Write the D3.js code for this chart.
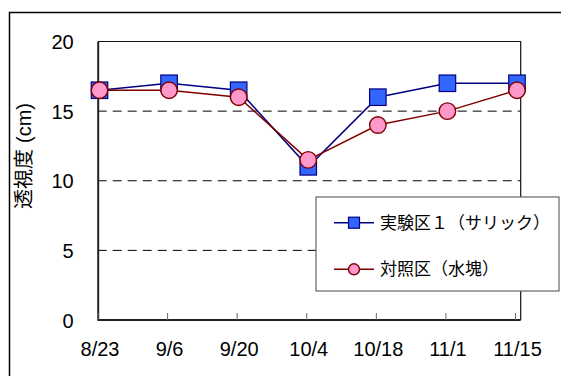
<!DOCTYPE html>
<html>
<head>
<meta charset="utf-8">
<script src="https://cdn.jsdelivr.net/npm/d3@7"></script>
<style>
  html, body { margin: 0; padding: 0; background: #fff; }
  svg { display: block; }
  text { font-family: "Liberation Sans", Arial, "Noto Sans CJK JP", sans-serif; fill: #000; }
</style>
</head>
<body>
<svg id="chart" width="561" height="376"></svg>
<script>
// Survey dates
const dates = ["8/23", "9/6", "9/20", "10/4", "10/18", "11/1", "11/15"];
// Transparency (cm) per plot
const salixValues = [16.5, 17, 16.5, 11, 16, 17, 17];
const controlValues = [16.5, 16.5, 16, 11.5, 14, 15, 16.5];
// Y-axis ticks
const yTicks = [0, 5, 10, 15, 20];
const seriesNames = ["実験区１（サリック）", "対照区（水塊）"];

const svg = d3.select("#chart");

// Outer chart frame
svg.append("rect")
  .attr("x", 9.5).attr("y", 12.5)
  .attr("width", 570).attr("height", 380)
  .attr("fill", "none").attr("stroke", "#000").attr("stroke-width", 1.5);

const plot = { left: 97.7, right: 520.7, top: 41.5, bottom: 320 };

const x = d3.scalePoint().domain(dates).range([99.5, 517]);
const y = d3.scaleLinear().domain([0, 20]).range([plot.bottom, plot.top]);

// Dashed gridlines
svg.append("g")
  .selectAll("line")
  .data(yTicks.filter(t => t > 0 && t < 20))
  .join("line")
  .attr("x1", plot.left).attr("x2", plot.right)
  .attr("y1", d => y(d)).attr("y2", d => y(d))
  .attr("stroke", "#000").attr("stroke-width", 1)
  .attr("stroke-dasharray", "9,6");

// Plot border: thin top and right
svg.append("path")
  .attr("d", `M${plot.left},${plot.top}H${plot.right}V${plot.bottom}`)
  .attr("fill", "none").attr("stroke", "#111").attr("stroke-width", 1.2);

// Y axis
const yAxis = d3.axisLeft(y).tickValues(yTicks).tickSize(0).tickPadding(24);
const gy = svg.append("g").attr("transform", `translate(${plot.left},0)`).call(yAxis);
gy.select(".domain").attr("stroke", "#222").attr("stroke-width", 2);
gy.selectAll("text").attr("font-size", 20).attr("dy", "0.35em")
  .style("font-family", '"Liberation Sans", Arial, sans-serif');

// X axis with inward ticks
const xAxis = d3.axisBottom(x).tickSize(0).tickPadding(22);
const gx = svg.append("g").attr("transform", `translate(0,${plot.bottom})`).call(xAxis);
gx.select(".domain").attr("d", `M${plot.left},0H${plot.right}`)
  .attr("stroke", "#222").attr("stroke-width", 2);
gx.selectAll("text").attr("font-size", 20).attr("dy", "0.68em")
  .style("font-family", '"Liberation Sans", Arial, sans-serif');
gx.selectAll(".tick").append("line")
  .attr("x1", -2).attr("x2", -2).attr("y1", 0).attr("y2", -7)
  .attr("stroke", "#666").attr("stroke-width", 1);

// Y axis title
const yTitle = svg.append("text")
  .attr("transform", "translate(31,156) rotate(-90)")
  .attr("text-anchor", "middle")
  .attr("font-size", 20);
yTitle.append("tspan").style("font-family", '"Noto Sans CJK JP", sans-serif').text("透視度");
yTitle.append("tspan").attr("dx", 6).style("font-family", '"Liberation Sans", Arial, sans-serif').text("(cm)");

const line = d3.line().x((d, i) => x(dates[i])).y(d => y(d));

const styles = [
  { values: salixValues, line: "#000080", fill: "#3366FF", stroke: "#000080", shape: "square" },
  { values: controlValues, line: "#800000", fill: "#FF99CC", stroke: "#800000", shape: "circle" }
];

styles.forEach(s => {
  svg.append("path")
    .datum(s.values)
    .attr("d", line)
    .attr("fill", "none")
    .attr("stroke", s.line)
    .attr("stroke-width", 1.5);
});

function drawMarker(g, shape, cx, cy, size, s) {
  if (shape === "square") {
    g.append("rect")
      .attr("x", cx - size / 2).attr("y", cy - size / 2)
      .attr("width", size).attr("height", size)
      .attr("fill", s.fill).attr("stroke", s.stroke).attr("stroke-width", 1.2);
  } else {
    g.append("circle")
      .attr("cx", cx).attr("cy", cy).attr("r", size / 2)
      .attr("fill", s.fill).attr("stroke", s.stroke).attr("stroke-width", 1.4);
  }
}

styles.forEach(s => {
  const g = svg.append("g");
  s.values.forEach((v, i) => drawMarker(g, s.shape, x(dates[i]), y(v), 16.5, s));
});

// Legend
const legend = svg.append("g");
legend.append("rect")
  .attr("x", 316).attr("y", 197).attr("width", 243).attr("height", 94)
  .attr("fill", "#fff").attr("stroke", "#666").attr("stroke-width", 1.2);

const rowsY = [222.7, 269.3];
styles.forEach((s, i) => {
  const ry = rowsY[i];
  legend.append("line")
    .attr("x1", 334).attr("x2", 374).attr("y1", ry).attr("y2", ry)
    .attr("stroke", s.line).attr("stroke-width", 1.5);
  drawMarker(legend, s.shape, 354, ry, 11, s);
  legend.append("text")
    .attr("x", 380).attr("y", ry)
    .attr("dy", "0.36em")
    .attr("font-size", 17)
    .style("font-family", '"Noto Sans CJK JP", sans-serif')
    .text(seriesNames[i]);
});
</script>
</body>
</html>
